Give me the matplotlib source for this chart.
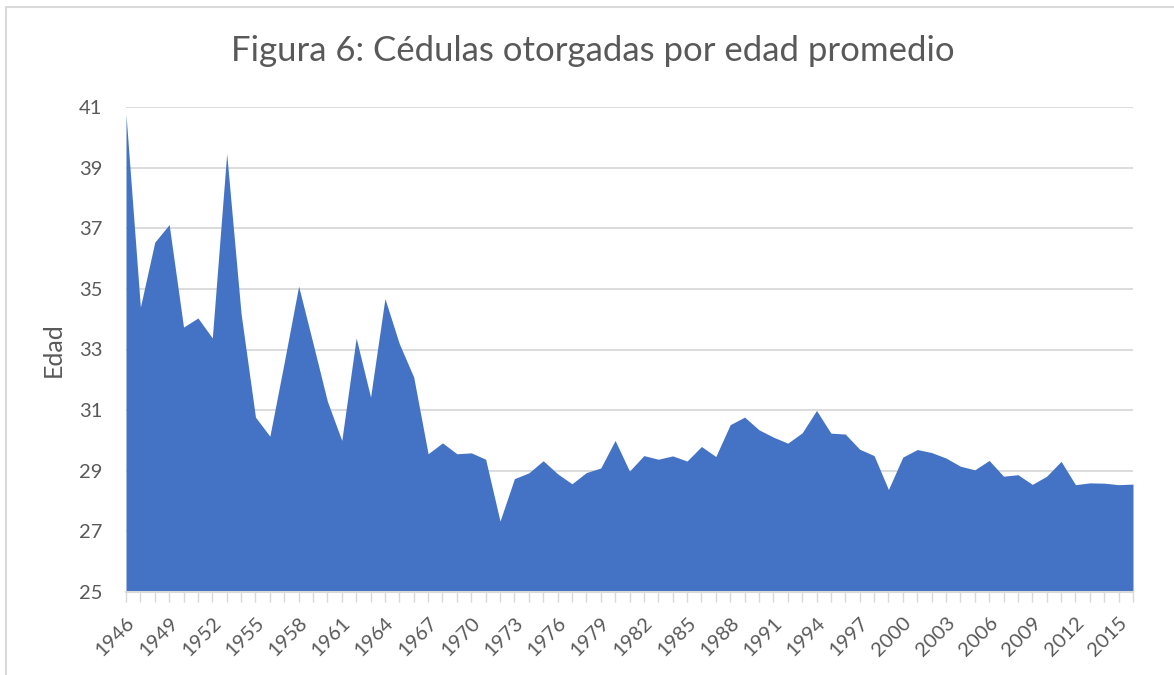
import numpy as np
import matplotlib.pyplot as plt
from matplotlib.patches import Rectangle

# average age per year
years = list(range(1946, 2017))
edad = [40.75, 34.40, 36.54, 37.12, 33.74, 34.04, 33.38, 39.46, 34.18, 30.77,
        30.14, 32.58, 35.09, 33.20, 31.29, 30.00, 33.38, 31.43, 34.68, 33.19,
        32.09, 29.56, 29.92, 29.56, 29.59, 29.38, 27.34, 28.74, 28.93, 29.33,
        28.90, 28.57, 28.94, 29.09, 30.00, 28.99, 29.50, 29.38, 29.49, 29.32,
        29.80, 29.47, 30.52, 30.77, 30.35, 30.11, 29.91, 30.25, 30.99, 30.24,
        30.21, 29.71, 29.50, 28.38, 29.45, 29.70, 29.60, 29.42, 29.15, 29.03,
        29.34, 28.82, 28.87, 28.55, 28.82, 29.31, 28.54, 28.60, 28.59, 28.54,
        28.56]
yticks = [25, 27, 29, 31, 33, 35, 37, 39, 41]
xlabels = years[::3]

title = "Figura 6: Cédulas otorgadas por edad promedio"
ylabel = "Edad"

plt.rcParams['font.family'] = ['Lato', 'DejaVu Sans']
grey = '#595959'

fig = plt.figure(figsize=(11.74, 6.75), dpi=100)
# chart border (clipped at right and bottom like the reference)
fig.patches.append(Rectangle((6 / 1174, -0.05), 1.1, 1 - 7 / 675 + 0.05,
                             transform=fig.transFigure, fill=False,
                             edgecolor='#D9D9D9', linewidth=1.5))

ax = fig.add_axes([126 / 1174, 1 - 592 / 675, (1133 - 126) / 1174, (592 - 107) / 675])
ax.fill_between(years, edad, 25, color='#4472C4', linewidth=0, zorder=2)

ax.set_xlim(years[0], years[-1])
ax.set_ylim(25, 41)
ax.set_yticks(yticks)
ax.yaxis.grid(True, color='#D9D9D9', linewidth=1.3, zorder=0)
ax.set_axisbelow(True)

ax.set_xticks(years, minor=True)
ax.set_xticks(xlabels)
ax.set_xticklabels([str(y) for y in xlabels], rotation=45, ha='right',
                   rotation_mode='anchor', fontsize=14.5, color=grey)
ax.tick_params(axis='x', which='both', length=7, width=1, color='#D9D9D9',
               direction='out', pad=9)
ax.tick_params(axis='y', length=0, labelsize=14.5, labelcolor=grey, pad=17)

for s in ['top', 'right', 'left']:
    ax.spines[s].set_visible(False)
ax.spines['bottom'].set_color('#D9D9D9')
ax.spines['bottom'].set_linewidth(1.5)

ax.set_ylabel(ylabel, fontsize=18, color=grey, labelpad=10)
fig.text(593 / 1174, 1 - 51 / 675, title, ha='center', va='center', fontsize=25,
         color=grey)

fig.savefig("out.png", dpi=100, facecolor='white')
